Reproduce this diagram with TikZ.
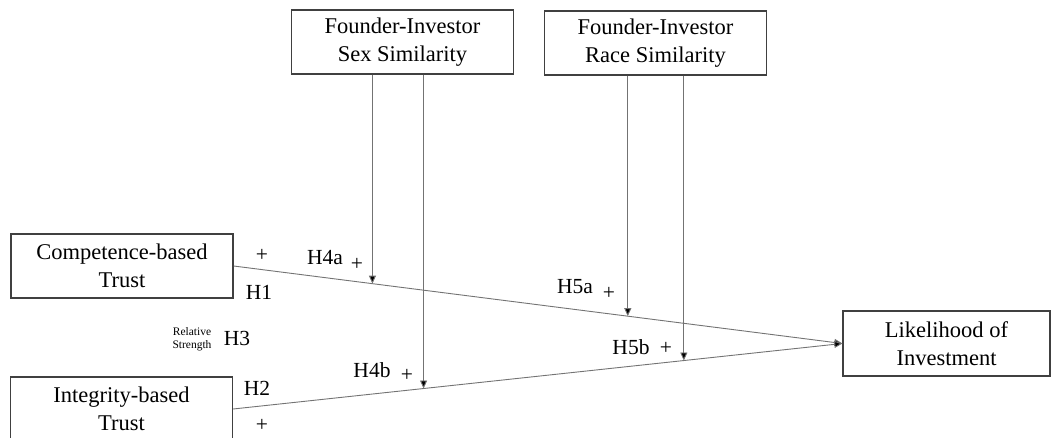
\documentclass[tikz,border=0pt]{standalone}
\usepackage{fontspec}
\setmainfont{Liberation Serif}
\usetikzlibrary{arrows.meta,calc}
\begin{document}
\begin{tikzpicture}[x=1pt,y=-1pt,
  box/.style={draw=black!75,line width=1.3pt,minimum width=222pt,minimum height=64pt,
    inner sep=0pt,align=center,font=\fontsize{22.5}{28}\selectfont},
  conn/.style={draw=black!55,line width=0.9pt,-{Triangle[length=8pt,width=7pt,fill=black]}},
  lbl/.style={font=\fontsize{21.5}{24}\selectfont,inner sep=0pt},
  tiny/.style={font=\fontsize{11.5}{13}\selectfont,inner sep=0pt,align=center}]
\useasboundingbox (0,0) rectangle (1052,438);
% boxes
\node[box] (sex) at (402.5,42) {Founder-Investor\\Sex Similarity};
\node[box] (race) at (655.5,43) {Founder-Investor\\Race Similarity};
\node[box] (comp) at (122,266) {Competence-based\\Trust};
\node[box] (integ) at (121.5,409) {Integrity-based\\Trust};
\node[box,minimum width=207pt,minimum height=65pt] (lik) at (946.5,343.5) {Likelihood of\\Investment};
% points where the moderators meet the main paths
\coordinate (c1) at ($(comp.east)!0.228!(lik.west)$);
\coordinate (c2) at ($(comp.east)!0.6475!(lik.west)$);
\coordinate (i1) at ($(integ.east)!0.3126!(lik.west)$);
\coordinate (i2) at ($(integ.east)!0.7398!(lik.west)$);
% main paths
\draw[conn] (comp.east) -- (lik.west);
\draw[conn] (integ.east) -- (lik.west);
% moderating paths
\draw[conn] (sex.south -| c1) -- (c1);
\draw[conn] (sex.south -| i1) -- (i1);
\draw[conn] (race.south -| c2) -- (c2);
\draw[conn] (race.south -| i2) -- (i2);
% labels
\node[lbl] (p1) at (262,255) {+};
\node[lbl] (h1) at (259,292) {H1};
\node[lbl] (h4a) at (325,258) {H4a};
\node[lbl] (p4a) at (357,264) {+};
\node[tiny] (rs) at (192,339) {Relative\\Strength};
\node[lbl] (h3) at (237,338) {H3};
\node[lbl] (h4b) at (372,370) {H4b};
\node[lbl] (p4b) at (407,375) {+};
\node[lbl] (h2) at (257,388) {H2};
\node[lbl] (p2) at (262,425) {+};
\node[lbl] (h5a) at (575,287) {H5a};
\node[lbl] (p5a) at (609,293) {+};
\node[lbl] (h5b) at (631,347) {H5b};
\node[lbl] (p5b) at (666,348) {+};
\end{tikzpicture}
\end{document}
